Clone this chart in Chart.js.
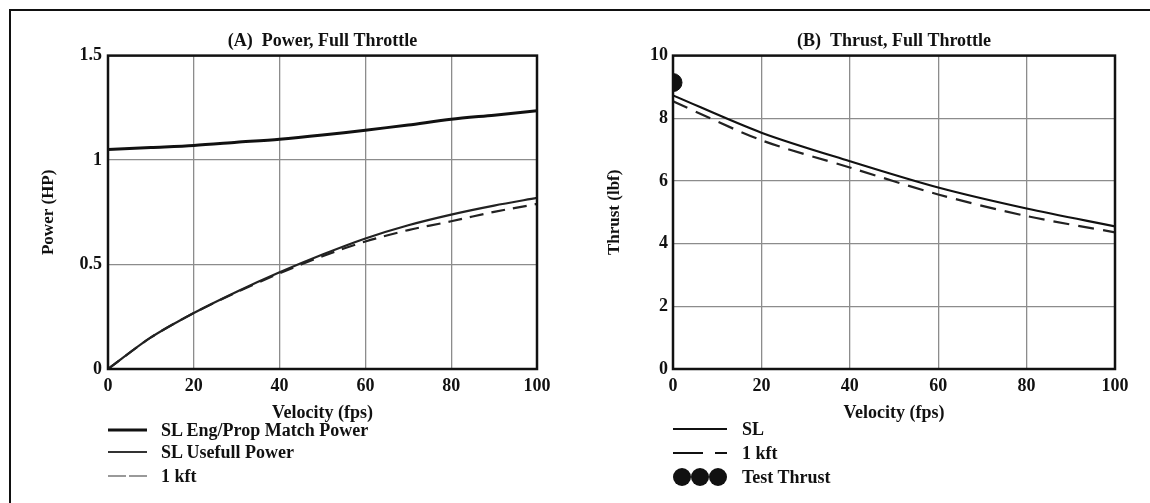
<!DOCTYPE html>
<html>
<head>
<meta charset="utf-8">
<script src="https://cdn.jsdelivr.net/npm/chart.js@4.4.0/dist/chart.umd.min.js"></script>
<style>
body { margin: 0; background: #fff; width: 1150px; height: 503px; overflow: hidden; position: relative;
       font-family: "Liberation Serif", "DejaVu Serif", serif; font-weight: bold; color: #111; }
.frame { position: absolute; left: 9px; top: 9px; width: 1141px; height: 494px;
         border-left: 2px solid #111; border-top: 2px solid #111; }
.box { position: absolute; top: 0; width: 575px; height: 440px; }
.row { position: absolute; height: 22px; line-height: 22px; font-size: 18px; white-space: nowrap; }
.row svg { position: absolute; top: 0; }
.row span { position: absolute; top: 0; }
</style>
</head>
<body>
<div class="frame"></div>
<div class="box" style="left:0"><canvas id="powerChart" width="575" height="440"></canvas></div>
<div class="box" style="left:575px"><canvas id="thrustChart" width="575" height="440"></canvas></div>

<!-- legend, panel A -->
<div class="row" style="left:108px;top:419px">
  <svg width="40" height="22"><line x1="0" y1="11" x2="39" y2="11" stroke="#111" stroke-width="3"/></svg>
  <span style="left:53px">SL Eng/Prop Match Power</span>
</div>
<div class="row" style="left:108px;top:441px">
  <svg width="40" height="22"><line x1="0" y1="11" x2="39" y2="11" stroke="#333" stroke-width="2"/></svg>
  <span style="left:53px">SL Usefull Power</span>
</div>
<div class="row" style="left:108px;top:465px">
  <svg width="40" height="22"><line x1="0" y1="11" x2="39" y2="11" stroke="#999" stroke-width="2" stroke-dasharray="18,3"/></svg>
  <span style="left:53px">1 kft</span>
</div>

<!-- legend, panel B -->
<div class="row" style="left:673px;top:418px">
  <svg width="56" height="22"><line x1="0" y1="11" x2="54" y2="11" stroke="#111" stroke-width="2"/></svg>
  <span style="left:69px">SL</span>
</div>
<div class="row" style="left:673px;top:442px">
  <svg width="56" height="22"><line x1="0" y1="11" x2="54" y2="11" stroke="#111" stroke-width="2" stroke-dasharray="30,12"/></svg>
  <span style="left:69px">1 kft</span>
</div>
<div class="row" style="left:673px;top:466px">
  <svg width="56" height="22"><circle cx="9" cy="11" r="9" fill="#111"/><circle cx="27" cy="11" r="9" fill="#111"/><circle cx="45" cy="11" r="9" fill="#111"/></svg>
  <span style="left:69px">Test Thrust</span>
</div>

<script>
// Panel A: power vs velocity
const powerVelocity = [0, 10, 20, 30, 40, 50, 60, 70, 80, 90, 100];
const powerMatchSL = [1.05, 1.06, 1.07, 1.085, 1.10, 1.12, 1.143, 1.168, 1.195, 1.215, 1.236];
const powerUsefulSL = [0, 0.151, 0.268, 0.37, 0.463, 0.548, 0.625, 0.688, 0.739, 0.782, 0.819];
const powerUseful1k = [0, 0.151, 0.268, 0.368, 0.458, 0.54, 0.61, 0.665, 0.707, 0.752, 0.79];
const powerTicks = ['0', '0.5', '1', '1.5'];

// Panel B: thrust vs velocity
const thrustVelocity = [0, 20, 40, 60, 80, 100];
const thrustSL = [8.73, 7.54, 6.63, 5.79, 5.12, 4.55];
const thrust1k = [8.54, 7.30, 6.43, 5.57, 4.88, 4.36];
const testThrustVelocity = [0];
const testThrust = [9.14];

const velocityTicks = [0, 20, 40, 60, 80, 100];

const FONT = '"Liberation Serif", "DejaVu Serif", serif';
const INK = '#111';
const GRID = '#8c8c8c';

const toPoints = (xs, ys) => xs.map((x, i) => ({ x: x, y: ys[i] }));

// box around the plot area
const framePlugin = {
    id: 'frame',
    afterDraw(chart) {
        const a = chart.chartArea;
        const c = chart.ctx;
        c.save();
        c.strokeStyle = INK;
        c.lineWidth = 2.5;
        c.strokeRect(a.left, a.top, a.right - a.left, a.bottom - a.top);
        c.restore();
    }
};

function makeChart(id, cfg) {
    return new Chart(document.getElementById(id), {
        type: 'line',
        data: { datasets: cfg.datasets },
        plugins: [framePlugin],
        options: {
            responsive: false,
            animation: false,
            layout: { padding: { left: 0, right: cfg.padRight, top: 31, bottom: 0 } },
            plugins: {
                legend: { display: false },
                tooltip: { enabled: false },
                title: {
                    display: true,
                    fullSize: false, // center over the plot area
                    text: cfg.title,
                    color: INK,
                    font: { family: FONT, size: 18, weight: 'bold' },
                    padding: { top: 0, bottom: 3 }
                }
            },
            scales: {
                x: {
                    type: 'linear',
                    min: 0, max: 100,
                    afterBuildTicks: s => { s.ticks = velocityTicks.map(v => ({ value: v })); },
                    afterFit: s => { s.height = 71; },
                    grid: { color: GRID, lineWidth: 1.3, drawTicks: false },
                    border: { display: false },
                    ticks: { color: INK, padding: 7, maxRotation: 0, font: { family: FONT, size: 18, weight: 'bold' } },
                    title: {
                        display: true, text: 'Velocity (fps)', color: INK,
                        font: { family: FONT, size: 18, weight: 'bold' },
                        padding: { top: 0, bottom: 16 }
                    }
                },
                y: {
                    min: cfg.yMin, max: cfg.yMax,
                    afterBuildTicks: s => { s.ticks = cfg.yTicks.map(v => ({ value: v })); },
                    afterFit: s => { s.width = cfg.yWidth; },
                    grid: { color: GRID, lineWidth: 1.3, drawTicks: false },
                    border: { display: false },
                    ticks: {
                        color: INK, padding: cfg.yTickPad,
                        font: { family: FONT, size: 18, weight: 'bold' },
                        callback: cfg.yLabel
                    },
                    title: {
                        display: true, text: cfg.yTitle, color: INK,
                        font: { family: FONT, size: 17, weight: 'bold' },
                        padding: { top: cfg.yTitlePad, bottom: 0 }
                    }
                }
            }
        }
    });
}

makeChart('powerChart', {
    title: '(A)  Power, Full Throttle',
    yTitle: 'Power (HP)',
    yMin: 0, yMax: 1.5,
    yTicks: [0, 0.5, 1, 1.5],
    yLabel: (v, i) => powerTicks[i],
    yWidth: 108, yTitlePad: 38, yTickPad: 6, padRight: 38,
    datasets: [
        { label: 'SL Eng/Prop Match Power', data: toPoints(powerVelocity, powerMatchSL),
          borderColor: INK, borderWidth: 3, pointRadius: 0, tension: 0.3 },
        { label: 'SL Usefull Power', data: toPoints(powerVelocity, powerUsefulSL),
          borderColor: '#222', borderWidth: 2.2, pointRadius: 0, tension: 0.3 },
        { label: '1 kft', data: toPoints(powerVelocity, powerUseful1k),
          borderColor: '#222', borderWidth: 2.2, borderDash: [14, 8], pointRadius: 0, tension: 0.3 }
    ]
});

makeChart('thrustChart', {
    title: '(B)  Thrust, Full Throttle',
    yTitle: 'Thrust (lbf)',
    yMin: 0, yMax: 10,
    yTicks: [0, 2, 4, 6, 8, 10],
    yLabel: v => String(v),
    yWidth: 98, yTitlePad: 29, yTickPad: 5, padRight: 35,
    datasets: [
        { label: 'SL', data: toPoints(thrustVelocity, thrustSL),
          borderColor: INK, borderWidth: 2.2, pointRadius: 0, tension: 0.3 },
        { label: '1 kft', data: toPoints(thrustVelocity, thrust1k),
          borderColor: '#222', borderWidth: 2.2, borderDash: [16, 9], pointRadius: 0, tension: 0.3 },
        { label: 'Test Thrust', data: toPoints(testThrustVelocity, testThrust),
          showLine: false, pointRadius: 9, pointBackgroundColor: INK, pointBorderColor: INK, clip: 0 }
    ]
});
</script>
</body>
</html>
